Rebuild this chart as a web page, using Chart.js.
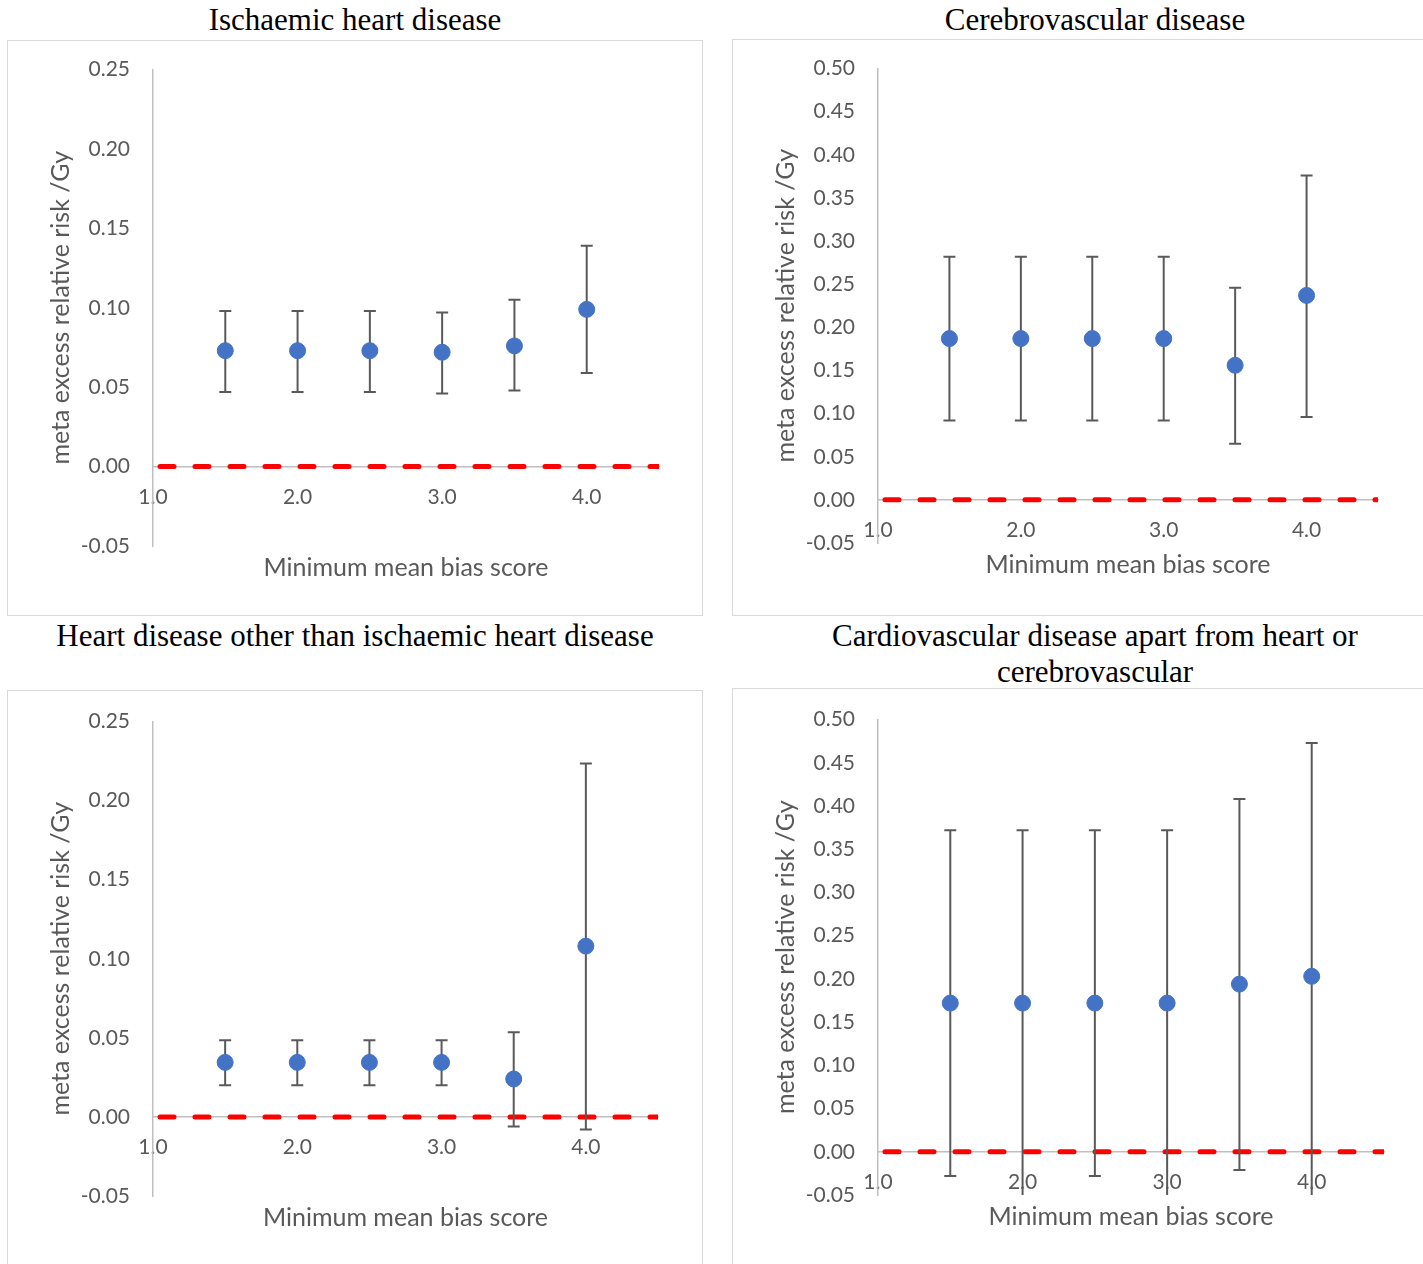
<!DOCTYPE html>
<html>
<head>
<meta charset="utf-8">
<script src="https://cdn.jsdelivr.net/npm/chart.js@4.4.1/dist/chart.umd.min.js"></script>
<style>
  body { margin: 0; width: 1423px; height: 1264px; overflow: hidden; background: #fff; position: relative; }
  .title { position: absolute; font-family: "Liberation Serif", serif; font-size: 31px; line-height: 36px; color: #000; text-align: center; white-space: nowrap; }
  .box { position: absolute; border: 1px solid #d9d9d9; box-sizing: border-box; }
  .plot { position: absolute; }
</style>
</head>
<body>
<div class="title" style="left:7px;width:696px;top:2px">Ischaemic heart disease</div>
<div class="title" style="left:732px;width:726px;top:2px">Cerebrovascular disease</div>
<div class="title" style="left:7px;width:696px;top:618px">Heart disease other than ischaemic heart disease</div>
<div class="title" style="left:732px;width:726px;top:618px">Cardiovascular disease apart from heart or<br>cerebrovascular</div>

<div class="box" style="left:7px;top:40px;width:696px;height:576px"></div>
<div class="box" style="left:732px;top:39px;width:692px;height:577px"></div>
<div class="box" style="left:7px;top:690px;width:696px;height:576px"></div>
<div class="box" style="left:732px;top:688px;width:692px;height:578px"></div>

<div class="plot" style="left:8px;top:34px;width:694px;height:581px"><canvas id="c1"></canvas></div>
<div class="plot" style="left:733px;top:33px;width:689px;height:579px"><canvas id="c2"></canvas></div>
<div class="plot" style="left:8px;top:686px;width:694px;height:579px"><canvas id="c3"></canvas></div>
<div class="plot" style="left:733px;top:684px;width:689px;height:580px"><canvas id="c4"></canvas></div>

<script>
// minimum mean bias score (x positions of estimates)
const biasScores = [1.5, 2.0, 2.5, 3.0, 3.5, 4.0];
const xTicks = [1.0, 2.0, 3.0, 4.0];
const refX = [1.0, 4.5];
const refY = [0, 0];

const yTicksSmall = [-0.05, 0.00, 0.05, 0.10, 0.15, 0.20, 0.25];
const yTicksLarge = [-0.05, 0.00, 0.05, 0.10, 0.15, 0.20, 0.25, 0.30, 0.35, 0.40, 0.45, 0.50];

// Ischaemic heart disease
const ihdEst  = [0.073, 0.073, 0.073, 0.072, 0.076, 0.099];
const ihdLow  = [0.047, 0.047, 0.047, 0.046, 0.048, 0.059];
const ihdHigh = [0.098, 0.098, 0.098, 0.097, 0.105, 0.139];

// Cerebrovascular disease
const cbvEst  = [0.187, 0.187, 0.187, 0.187, 0.156, 0.237];
const cbvLow  = [0.092, 0.092, 0.092, 0.092, 0.065, 0.096];
const cbvHigh = [0.282, 0.282, 0.282, 0.282, 0.246, 0.376];

// Heart disease other than IHD
const ohdEst  = [0.0345, 0.0345, 0.0345, 0.0345, 0.024, 0.108];
const ohdLow  = [0.020, 0.020, 0.020, 0.020, -0.006, -0.008];
const ohdHigh = [0.0485, 0.0485, 0.0485, 0.0485, 0.0535, 0.2235];

// Other cardiovascular disease
const ocvEst  = [0.172, 0.172, 0.172, 0.172, 0.194, 0.203];
const ocvLow  = [-0.028, -0.06, -0.028, -0.06, -0.021, -0.07];
const ocvHigh = [0.372, 0.372, 0.372, 0.372, 0.408, 0.473];

const xTitleText = 'Minimum mean bias score';
const yTitleText = 'meta excess relative risk /Gy';

const textGrey = '#595959';
const axisGrey = '#bfbfbf';

// error bars drawn right after the red reference line, under the points
const errorBars = {
  id: 'errorBars',
  afterDatasetDraw(chart, args, opts) {
    if (args.index !== 1) return;
    const ctx = chart.ctx;
    const area = chart.chartArea;
    const x = chart.scales.x, y = chart.scales.y;
    ctx.save();
    ctx.beginPath();
    ctx.rect(area.left, area.top - 2, area.width, area.height + 2);
    ctx.clip();
    ctx.strokeStyle = textGrey;
    ctx.lineWidth = 2;
    biasScores.forEach((b, i) => {
      const px = x.getPixelForValue(b);
      const top = y.getPixelForValue(opts.high[i]);
      const bot = y.getPixelForValue(opts.low[i]);
      ctx.beginPath();
      ctx.moveTo(px, top); ctx.lineTo(px, bot);
      ctx.moveTo(px - 6, top); ctx.lineTo(px + 6, top);
      ctx.moveTo(px - 6, bot); ctx.lineTo(px + 6, bot);
      ctx.stroke();
    });
    ctx.restore();
  }
};

// x axis title centred under the plot area (axis itself sits on y = 0)
const xTitle = {
  id: 'xTitle',
  afterDraw(chart) {
    const ctx = chart.ctx, a = chart.chartArea;
    ctx.save();
    ctx.font = '25px Lato';
    ctx.fillStyle = textGrey;
    ctx.textAlign = 'center';
    ctx.textBaseline = 'middle';
    ctx.fillText(xTitleText, (a.left + a.right) / 2, a.bottom + 22);
    ctx.restore();
  }
};

function makeChart(id, est, low, high, yTicks, padRight) {
  new Chart(document.getElementById(id), {
    type: 'scatter',
    data: {
      datasets: [
        {
          data: biasScores.map((b, i) => ({ x: b, y: est[i] })),
          backgroundColor: '#4472C4',
          borderColor: '#4472C4',
          pointRadius: 8,
          pointHoverRadius: 8,
          showLine: false
        },
        {
          type: 'line',
          data: refX.map((v, i) => ({ x: v, y: refY[i] })),
          borderColor: '#ff0000',
          borderWidth: 5,
          borderDash: [14, 21],
          borderDashOffset: -7,
          borderCapStyle: 'round',
          pointRadius: 0,
          fill: false
        }
      ]
    },
    options: {
      responsive: true,
      maintainAspectRatio: false,
      animation: false,
      events: [],
      layout: { padding: { left: 34, right: padRight, top: 34, bottom: 69 } },
      plugins: {
        legend: { display: false },
        tooltip: { enabled: false },
        errorBars: { low: low, high: high }
      },
      scales: {
        x: {
          type: 'linear',
          position: { y: 0 },
          min: refX[0],
          max: refX[1],
          afterBuildTicks: s => { s.ticks = xTicks.map(v => ({ value: v })); },
          grid: { display: false, drawTicks: false },
          border: { display: true, color: axisGrey, width: 1.5 },
          ticks: {
            color: textGrey,
            padding: 18,
            maxRotation: 0,
            font: { family: 'Lato', size: 21 },
            callback: v => v.toFixed(1)
          }
        },
        y: {
          min: yTicks[0],
          max: yTicks[yTicks.length - 1],
          afterBuildTicks: s => { s.ticks = yTicks.map(v => ({ value: v })); },
          afterFit: s => { s.width = 111; },
          grid: { display: false, drawTicks: false },
          border: { display: true, color: axisGrey, width: 1.5 },
          ticks: {
            color: textGrey,
            padding: 23,
            font: { family: 'Lato', size: 21 },
            callback: v => v.toFixed(2)
          },
          title: {
            display: true,
            text: yTitleText,
            color: textGrey,
            font: { family: 'Lato', size: 25 }
          }
        }
      }
    },
    plugins: [errorBars, xTitle]
  });
}

makeChart('c1', ihdEst, ihdLow, ihdHigh, yTicksSmall, 43);
makeChart('c2', cbvEst, cbvLow, cbvHigh, yTicksLarge, 44);
makeChart('c3', ohdEst, ohdLow, ohdHigh, yTicksSmall, 44);
makeChart('c4', ocvEst, ocvLow, ocvHigh, yTicksLarge, 38);
</script>
</body>
</html>
